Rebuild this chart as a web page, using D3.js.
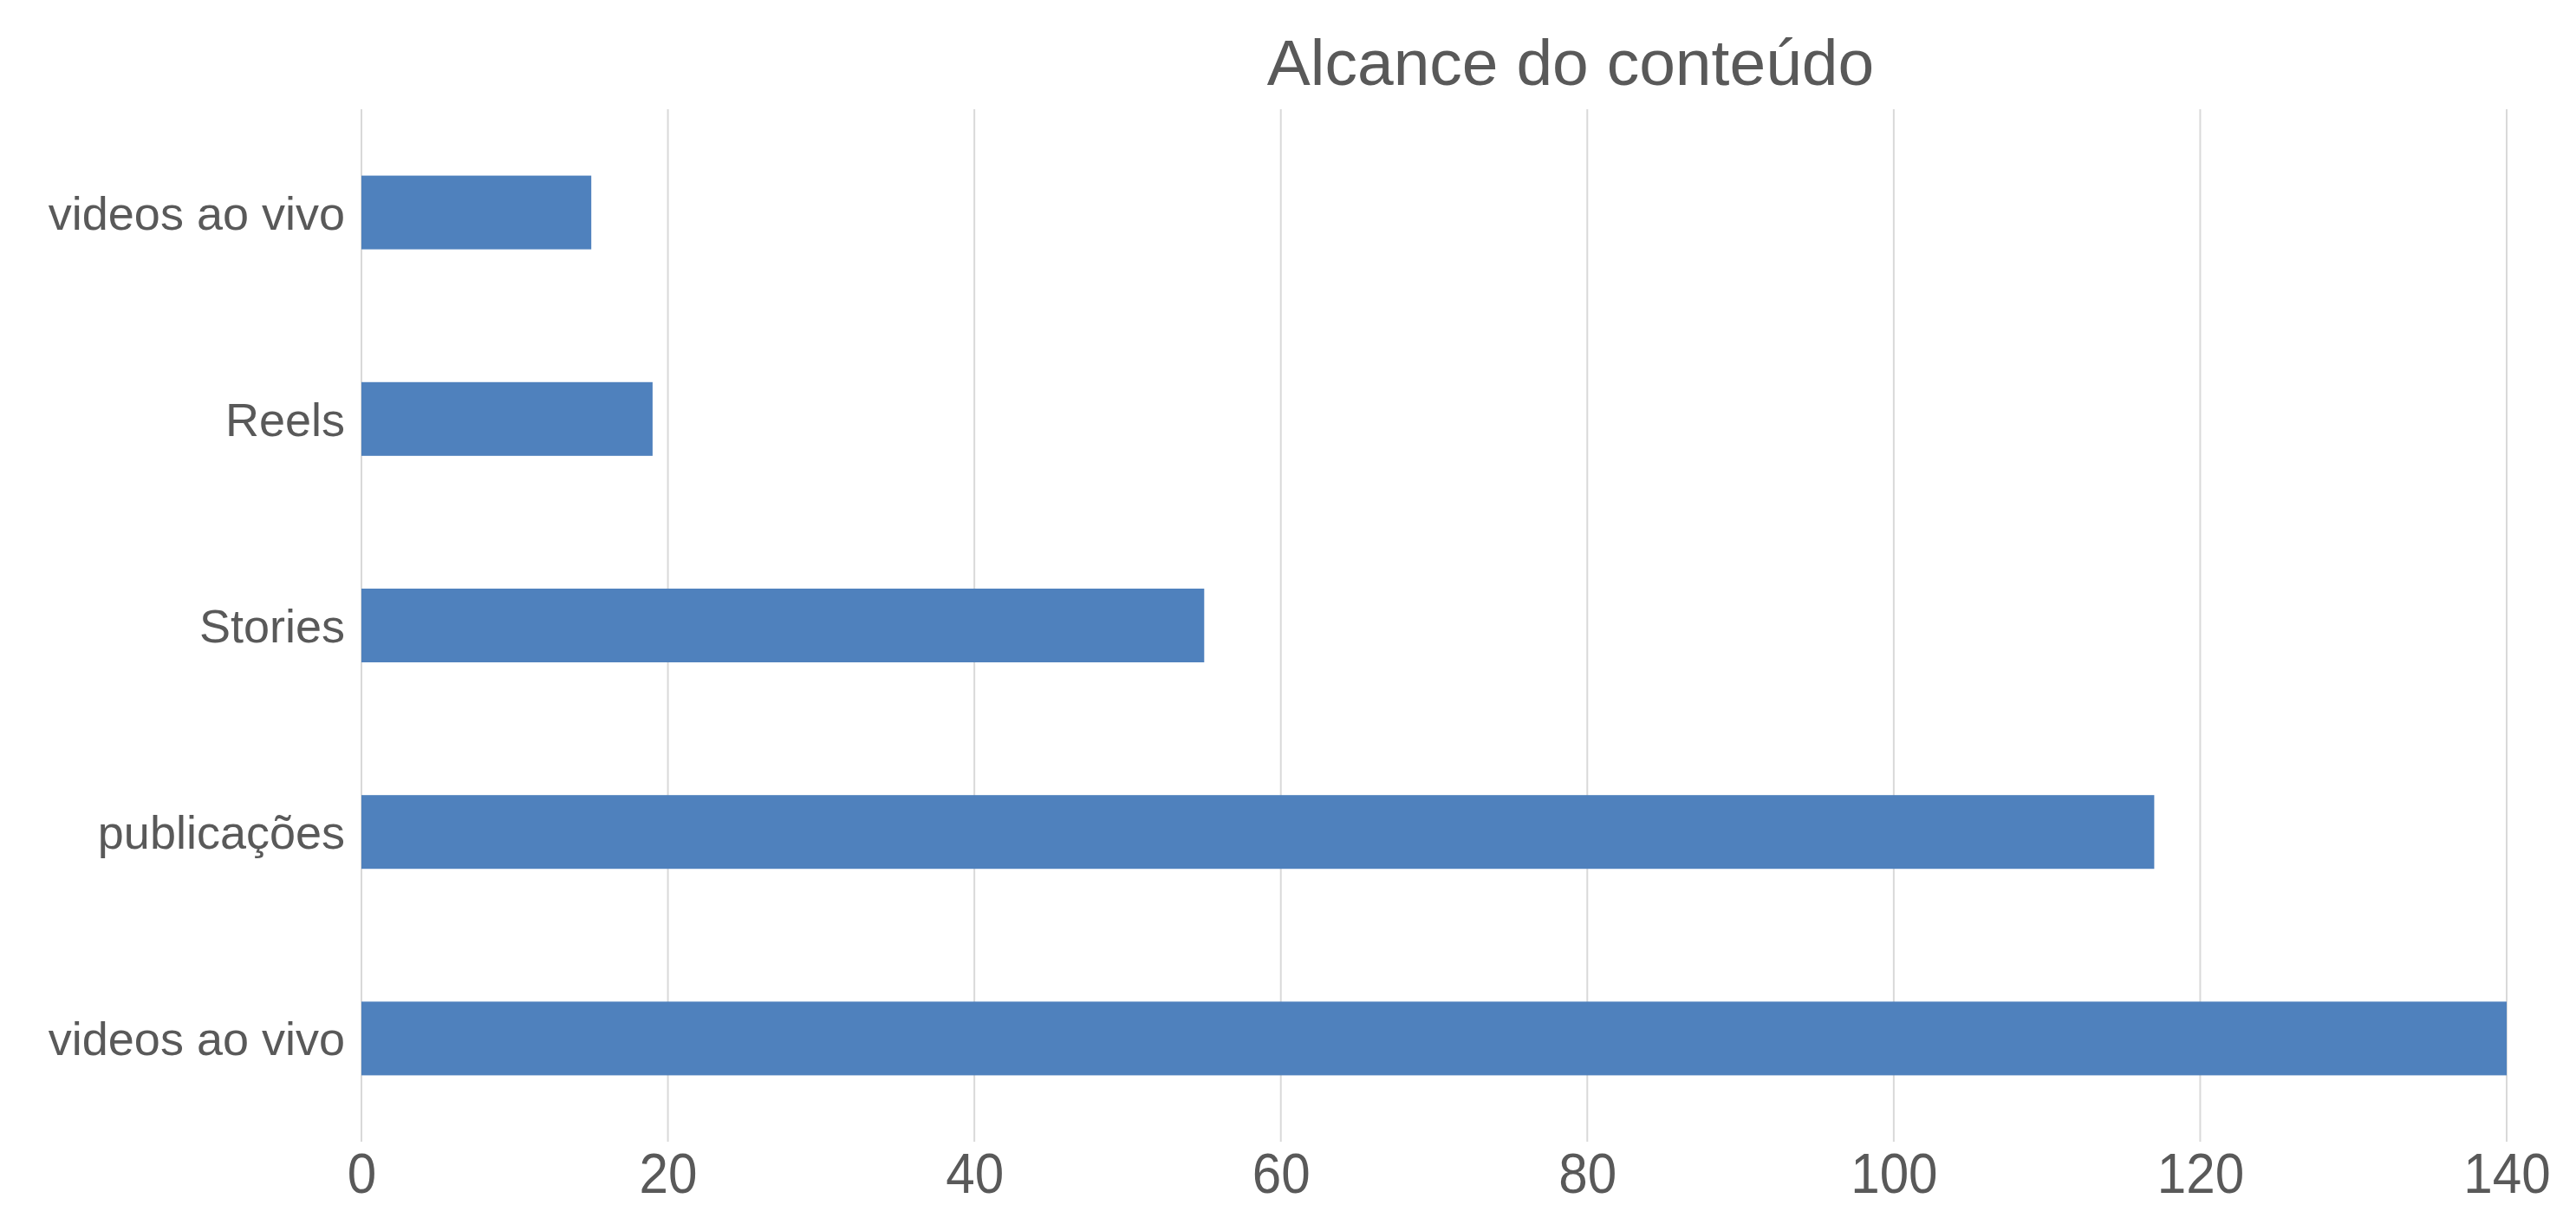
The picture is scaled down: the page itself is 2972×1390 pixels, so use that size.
<!DOCTYPE html>
<html>
<head>
<meta charset="utf-8">
<script src="https://cdn.jsdelivr.net/npm/d3@7"></script>
<style>
  html, body { margin: 0; padding: 0; background: #ffffff; }
  svg { display: block; }
  text { font-family: "Liberation Sans", Arial, Helvetica, sans-serif; fill: #595959; }
</style>
</head>
<body>
<svg id="chart" width="2972" height="1390"></svg>
<script>
// ---- data ----
const title = "Alcance do conteúdo";
const categories = ["videos ao vivo", "Reels", "Stories", "publicações", "videos ao vivo"];
const values = [15, 19, 55, 117, 140];
const xTicks = [0, 20, 40, 60, 80, 100, 120, 140];

// ---- layout ----
const W = 2972, H = 1390;
const margin = { left: 417, right: W - 2892, top: 126, bottom: H - 1317 };
const svg = d3.select("#chart");

const x = d3.scaleLinear().domain([0, 140]).range([margin.left, W - margin.right]);
const idx = categories.map((d, i) => i);
const y = d3.scaleBand().domain(idx).range([margin.top, H - margin.bottom])
  .paddingInner(0.643).paddingOuter(0.3215);

// gridlines
svg.append("g").selectAll("line").data(xTicks).join("line")
  .attr("x1", d => x(d)).attr("x2", d => x(d))
  .attr("y1", margin.top).attr("y2", H - margin.bottom)
  .attr("stroke", "#d9d9d9").attr("stroke-width", 2);

// bars
svg.append("g").selectAll("rect").data(values).join("rect")
  .attr("x", x(0))
  .attr("y", (d, i) => y(i))
  .attr("width", d => x(d) - x(0))
  .attr("height", y.bandwidth())
  .attr("fill", "#4f81bd");

// x axis labels
const xAxis = d3.axisBottom(x).tickValues(xTicks).tickSize(0).tickPadding(14).tickFormat(d3.format("d"));
const gx = svg.append("g").attr("transform", `translate(0,${H - margin.bottom})`).call(xAxis);
gx.select(".domain").remove();
gx.selectAll("text").style("font-size", "64px").attr("fill", "#595959")
  .style("font-family", "\"Liberation Sans\", Arial, sans-serif")
  .each(function() {
    const len = this.getComputedTextLength();
    d3.select(this).attr("textLength", len * 0.94).attr("lengthAdjust", "spacingAndGlyphs");
  });

// y axis labels
const yAxis = d3.axisLeft(y).tickSize(0).tickPadding(19).tickFormat(i => categories[i]);
const gy = svg.append("g").attr("transform", `translate(${margin.left},0)`).call(yAxis);
gy.select(".domain").remove();
gy.selectAll("text").style("font-size", "54px").attr("fill", "#595959").attr("dy", "0.36em")
  .style("font-family", "\"Liberation Sans\", Arial, sans-serif");

// title
svg.append("text")
  .attr("x", 1812).attr("y", 98)
  .attr("text-anchor", "middle")
  .style("font-size", "75px")
  .text(title);
</script>
</body>
</html>
